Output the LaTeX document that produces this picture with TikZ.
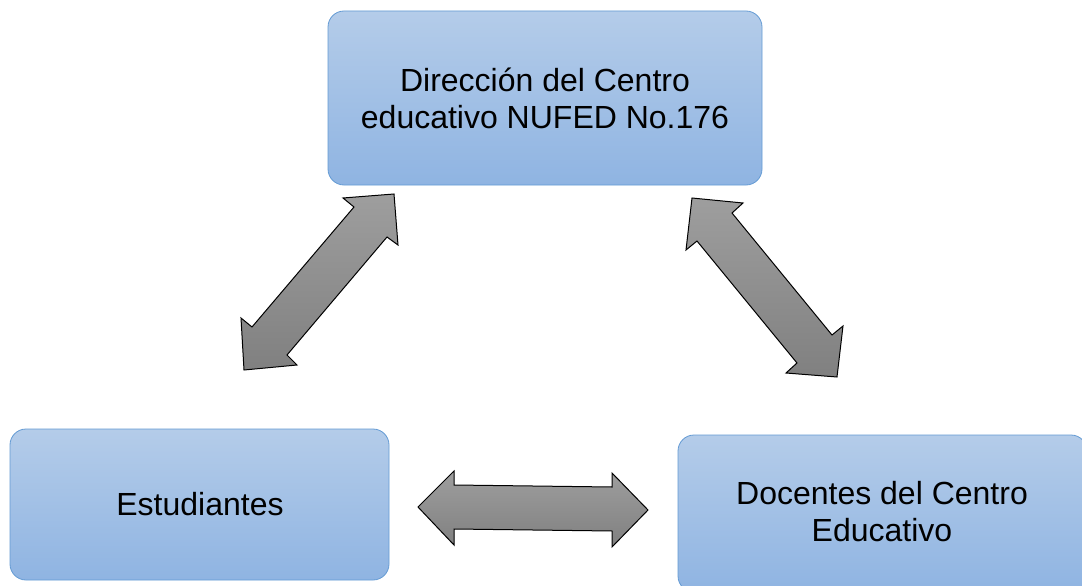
\documentclass[tikz,border=0pt]{standalone}
\usepackage{fontspec}
\setmainfont{Liberation Sans}
\definecolor{boxtop}{RGB}{180,204,233}
\definecolor{boxbot}{RGB}{143,180,226}
\definecolor{boxline}{RGB}{100,155,212}
\definecolor{arrtop}{RGB}{158,158,158}
\definecolor{arrbot}{RGB}{128,128,128}
\tikzset{
  x=1pt, y=-1pt,
  bluebox/.style={draw=boxline, line width=0.8pt, rounded corners=16pt,
    top color=boxtop, bottom color=boxbot},
  boxtext/.style={font=\fontsize{32}{37}\selectfont, align=center, text=black, inner sep=0pt},
  bigarrow/.style={draw=black, line width=1pt, line join=miter,
    top color=arrtop, bottom color=arrbot}
}
\begin{document}
\begin{tikzpicture}
\useasboundingbox (0,0) rectangle (1082,586);
\clip (0,0) rectangle (1082,586);
\fill[white] (0,0) rectangle (1082,586);
% boxes
\draw[bluebox] (328,11) rectangle (762,185);
\node[boxtext] (dir) at (545,98) {Dirección del Centro\\educativo NUFED No.176};
\draw[bluebox] (10,429) rectangle (389,580);
\node[boxtext] (est) at (200,504) {Estudiantes};
\draw[bluebox] (678,435) rectangle (1087,592);
\node[boxtext] (doc) at (882,512) {Docentes del Centro\\Educativo};
% arrows
\draw[bigarrow] (394,194) -- (398,245) -- (387,237) -- (287,355) -- (297,365) -- (244,370)
  -- (241,318) -- (252,327) -- (354,207) -- (343,198) -- cycle;
\draw[bigarrow] (692,198) -- (743,203) -- (732,213) -- (832,335) -- (843,326) -- (837,377)
  -- (786,373) -- (797,363) -- (697,241) -- (686,250) -- cycle;
\draw[bigarrow] (418,507) -- (454,471) -- (454,485) -- (612,487) -- (612,473) -- (648,510)
  -- (612,547) -- (612,531) -- (454,529) -- (454,545) -- cycle;
\end{tikzpicture}
\end{document}
